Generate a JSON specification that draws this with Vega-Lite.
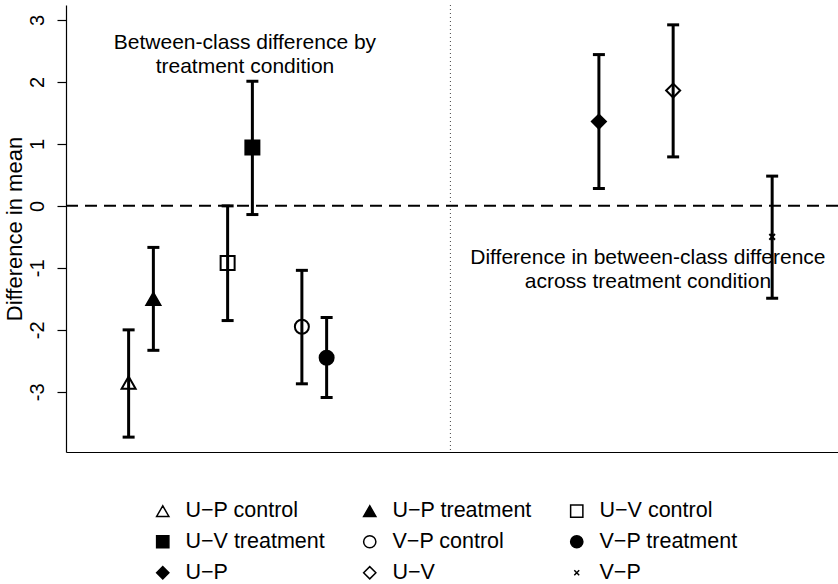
{
  "$schema": "https://vega.github.io/schema/vega-lite/v6.json",
  "width": 772,
  "height": 447,
  "autosize": {"type": "none"},
  "padding": {"left": 66, "top": 5, "right": 0, "bottom": 132},
  "background": "white",
  "config": {
    "view": {"stroke": null},
    "font": "Liberation Sans",
    "axis": {"grid": false},
    "legend": {
      "labelFont": "Liberation Sans",
      "labelFontSize": 21.5,
      "labelColor": "black"
    }
  },
  "datasets": {
    "estimates": [
      {"group": "U−P control", "x": 1, "est": -2.85, "lo": -3.73, "hi": -2.0},
      {"group": "U−P treatment", "x": 2, "est": -1.5, "lo": -2.33, "hi": -0.67},
      {"group": "U−V control", "x": 5, "est": -0.92, "lo": -1.85, "hi": 0.0},
      {"group": "U−V treatment", "x": 6, "est": 0.94, "lo": -0.14, "hi": 2.01},
      {"group": "V−P control", "x": 8, "est": -1.95, "lo": -2.87, "hi": -1.04},
      {"group": "V−P treatment", "x": 9, "est": -2.45, "lo": -3.09, "hi": -1.8},
      {"group": "U−P", "x": 20, "est": 1.36, "lo": 0.28, "hi": 2.44},
      {"group": "U−V", "x": 23, "est": 1.86, "lo": 0.79, "hi": 2.92},
      {"group": "V−P", "x": 27, "est": -0.5, "lo": -1.49, "hi": 0.48}
    ],
    "notes": [
      {"x": 5.7, "y": 2.63, "text": ["Between-class difference by", "treatment condition"]},
      {"x": 21.98, "y": -0.84, "text": ["Difference in between-class difference", "across treatment condition"]}
    ]
  },
  "encoding": {
    "x": {
      "type": "quantitative",
      "scale": {"domain": [-1.53, 29.66], "nice": false, "zero": false},
      "axis": {"ticks": false, "labels": false, "title": null, "domainColor": "black", "domainWidth": 1.2}
    },
    "y": {
      "type": "quantitative",
      "scale": {"domain": [-3.97, 3.24], "nice": false, "zero": false}
    }
  },
  "layer": [
    {
      "data": {"values": [{"x0": 14}]},
      "mark": {"type": "rule", "stroke": "#444", "strokeWidth": 1, "strokeDash": [1, 3]},
      "encoding": {"x": {"field": "x0", "type": "quantitative"}}
    },
    {
      "data": {"values": [{"y0": 0}]},
      "mark": {"type": "rule", "stroke": "black", "strokeWidth": 2, "strokeDash": [12, 7]},
      "encoding": {
        "y": {
          "field": "y0",
          "type": "quantitative",
          "axis": {
            "values": [-3, -2, -1, 0, 1, 2, 3],
            "labelExpr": "'' + datum.value",
            "title": "Difference in mean",
            "titleFont": "Liberation Sans",
            "titleFontSize": 22,
            "titleFontWeight": "normal",
            "titleColor": "black",
            "titlePadding": 1,
            "labelFont": "Liberation Sans",
            "labelFontSize": 20,
            "labelColor": "black",
            "labelAngle": -90,
            "labelPadding": 10,
            "tickSize": 9,
            "tickColor": "black",
            "tickWidth": 1.2,
            "domainColor": "black",
            "domainWidth": 1.2
          }
        }
      }
    },
    {
      "data": {"name": "estimates"},
      "mark": {"type": "rule", "stroke": "black", "strokeWidth": 3},
      "encoding": {
        "x": {"field": "x", "type": "quantitative"},
        "y": {"field": "lo", "type": "quantitative"},
        "y2": {"field": "hi"}
      }
    },
    {
      "data": {"name": "estimates"},
      "mark": {"type": "tick", "orient": "horizontal", "color": "black", "size": 12, "thickness": 3, "opacity": 1},
      "encoding": {
        "x": {"field": "x", "type": "quantitative"},
        "y": {"field": "lo", "type": "quantitative"}
      }
    },
    {
      "data": {"name": "estimates"},
      "mark": {"type": "tick", "orient": "horizontal", "color": "black", "size": 12, "thickness": 3, "opacity": 1},
      "encoding": {
        "x": {"field": "x", "type": "quantitative"},
        "y": {"field": "hi", "type": "quantitative"}
      }
    },
    {
      "data": {"name": "estimates"},
      "mark": {"type": "point", "stroke": "black", "strokeWidth": 2, "size": 196, "opacity": 1},
      "encoding": {
        "x": {"field": "x", "type": "quantitative"},
        "y": {"field": "est", "type": "quantitative"},
        "shape": {
          "field": "group",
          "type": "nominal",
          "scale": {
            "domain": ["U−P control", "U−P treatment", "U−V control", "U−V treatment", "V−P control", "V−P treatment", "U−P", "U−V", "V−P"],
            "range": ["triangle-up", "triangle-up", "square", "square", "circle", "circle", "diamond", "diamond", "M-0.4,-0.4L0.4,0.4M-0.4,0.4L0.4,-0.4"]
          },
          "legend": {
            "title": null,
            "orient": "none",
            "direction": "horizontal",
            "legendX": 86,
            "legendY": 495,
            "columns": 3,
            "columnPadding": 34,
            "rowPadding": 8,
            "gridAlign": "all",
            "padding": 0,
            "symbolSize": 150,
            "labelOffset": 12,
            "encode": {
              "symbols": {
                "update": {
                  "stroke": {"value": "black"},
                  "strokeWidth": {"value": 1.5},
                  "opacity": {"value": 1}
                }
              }
            }
          }
        },
        "fill": {
          "field": "group",
          "type": "nominal",
          "scale": {
            "domain": ["U−P control", "U−P treatment", "U−V control", "U−V treatment", "V−P control", "V−P treatment", "U−P", "U−V", "V−P"],
            "range": ["transparent", "black", "transparent", "black", "transparent", "black", "black", "transparent", "black"]
          },
          "legend": {
            "title": null,
            "orient": "none",
            "direction": "horizontal",
            "legendX": 86,
            "legendY": 495,
            "columns": 3,
            "columnPadding": 34,
            "rowPadding": 8,
            "gridAlign": "all",
            "padding": 0,
            "symbolSize": 150,
            "labelOffset": 12,
            "encode": {
              "symbols": {
                "update": {
                  "stroke": {"value": "black"},
                  "strokeWidth": {"value": 1.5},
                  "opacity": {"value": 1}
                }
              }
            }
          }
        }
      }
    },
    {
      "data": {"name": "notes"},
      "mark": {"type": "text", "font": "Liberation Sans", "fontSize": 21, "color": "black", "align": "center", "baseline": "middle", "lineHeight": 24},
      "encoding": {
        "x": {"field": "x", "type": "quantitative"},
        "y": {"field": "y", "type": "quantitative"},
        "text": {"field": "text"}
      }
    }
  ]
}
